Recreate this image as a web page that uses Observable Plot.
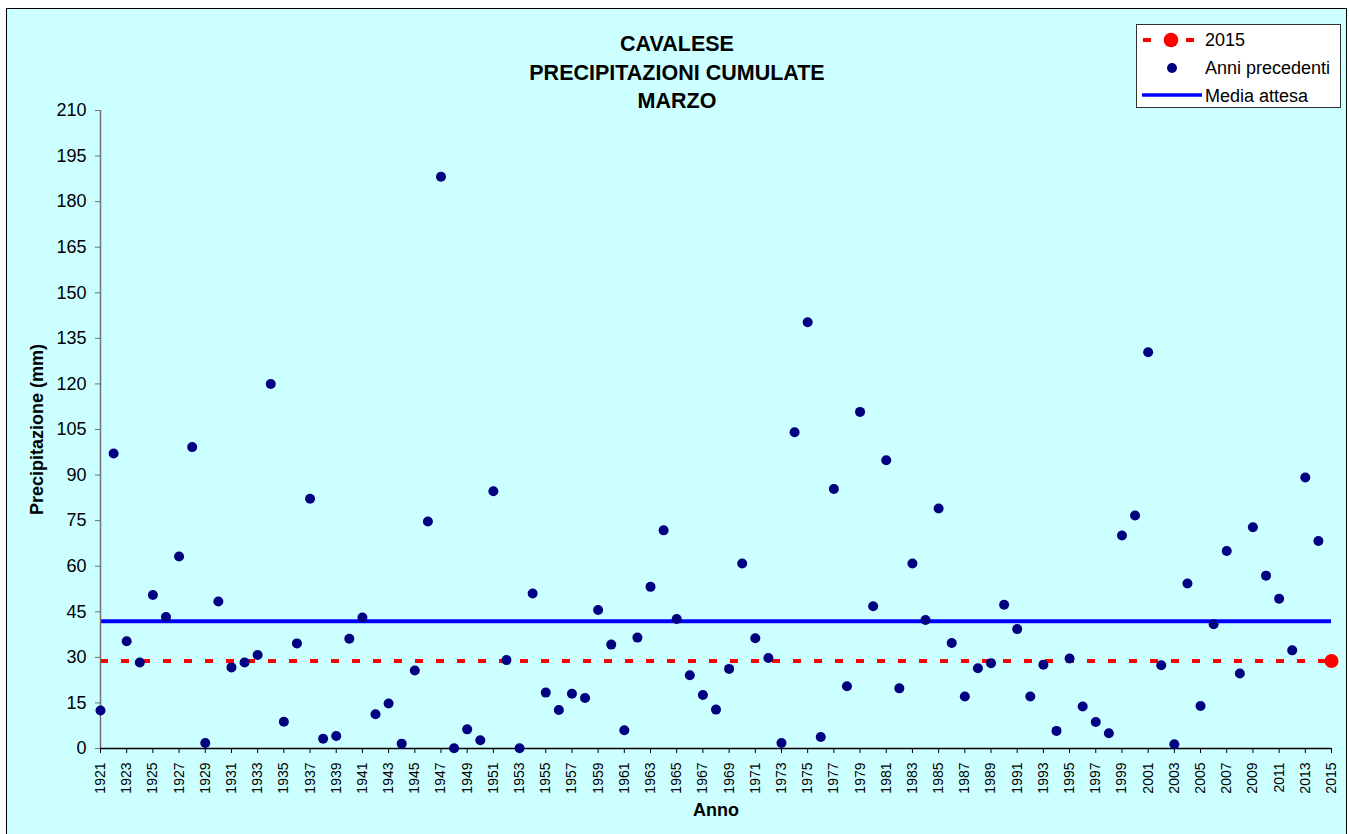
<!DOCTYPE html>
<html>
<head>
<meta charset="utf-8">
<script src="https://cdn.jsdelivr.net/npm/d3@7"></script>
<script src="https://cdn.jsdelivr.net/npm/@observablehq/plot@0.6"></script>
<style>
  html, body { margin: 0; padding: 0; background: #ffffff; }
  #wrap { position: relative; width: 1349px; height: 834px; overflow: hidden; font-family: "Liberation Sans", Arial, sans-serif; }
  #frame { position: absolute; left: 6px; top: 8px; width: 1341px; height: 840px; background: #CCFFFF; border: 1.5px solid #000; box-sizing: border-box; }
  #chart { position: absolute; left: 0; top: 0; }
  #title { position: absolute; left: 477px; width: 400px; top: 30px; text-align: center; font-weight: bold; font-size: 21.5px; line-height: 28.5px; color: #000; }
  #legend { position: absolute; left: 1136px; top: 24px; width: 205px; height: 84px; background: #fff; border: 1px solid #333; box-sizing: border-box; }
  #legend svg { position: absolute; left: 0; top: 0; }
</style>
</head>
<body>
<div id="wrap">
  <div id="frame"></div>
  <div id="chart"></div>
  <div id="title">CAVALESE<br>PRECIPITAZIONI CUMULATE<br>MARZO</div>
  <div id="legend"></div>
</div>
<script>
// ---- data ----
const years = [
  1921,1922,1923,1924,1925,1926,1927,1928,1929,1930,
  1931,1932,1933,1934,1935,1936,1937,1938,1939,1940,
  1941,1942,1943,1944,1945,1946,1947,1948,1949,1950,
  1951,1952,1953,1954,1955,1956,1957,1958,1959,1960,
  1961,1962,1963,1964,1965,1966,1967,1968,1969,1970,
  1971,1972,1973,1974,1975,1976,1977,1978,1979,1980,
  1981,1982,1983,1984,1985,1986,1987,1988,1989,1990,
  1991,1992,1993,1994,1995,1996,1997,1998,1999,2000,
  2001,2002,2003,2004,2005,2006,2007,2008,2009,2010,
  2011,2012,2013,2014
];
const precip = [
  12.5, 97.1, 35.3, 28.3, 50.5, 43.3, 63.2, 99.2, 1.8, 48.4,
  26.7, 28.3, 30.8, 120.0, 8.8, 34.6, 82.2, 3.2, 4.1, 36.1,
  43.1, 11.3, 14.8, 1.6, 25.7, 74.7, 188.2, 0.1, 6.3, 2.7,
  84.7, 29.1, 0.1, 51.0, 18.4, 12.7, 18.0, 16.6, 45.6, 34.2,
  6.0, 36.5, 53.2, 71.8, 42.6, 24.1, 17.6, 12.8, 26.2, 60.9,
  36.3, 29.8, 1.8, 104.1, 140.3, 3.8, 85.4, 20.5, 110.8, 46.8,
  94.9, 19.8, 60.9, 42.3, 79.0, 34.7, 17.1, 26.4, 28.1, 47.3,
  39.3, 17.1, 27.6, 5.8, 29.6, 13.8, 8.7, 5.0, 70.1, 76.7,
  130.4, 27.4, 1.4, 54.3, 14.0, 40.9, 65.0, 24.7, 72.8, 56.9,
  49.3, 32.3, 89.2, 68.3
];
const currentYear = [2015];
const currentValue = [28.8];
const expectedMean = [41.9];
const xTickLabels = [
  1921,1923,1925,1927,1929,1931,1933,1935,1937,1939,1941,1943,1945,1947,
  1949,1951,1953,1955,1957,1959,1961,1963,1965,1967,1969,1971,1973,1975,
  1977,1979,1981,1983,1985,1987,1989,1991,1993,1995,1997,1999,2001,2003,
  2005,2007,2009,2011,2013,2015
];
const yTickLabels = [0,15,30,45,60,75,90,105,120,135,150,165,180,195,210];

const past = years.map((y, i) => ({year: y, value: precip[i]}));
const current = currentYear.map((y, i) => ({year: y, value: currentValue[i]}));
const xMin = xTickLabels[0], xMax = xTickLabels[xTickLabels.length - 1];

const chart = Plot.plot({
  width: 1349,
  height: 834,
  marginLeft: 100,
  marginRight: 18,
  marginTop: 110,
  marginBottom: 86,
  style: {background: "transparent", fontFamily: "'Liberation Sans', Arial, sans-serif", color: "#000", overflow: "visible"},
  x: {domain: [xMin, xMax], type: "linear"},
  y: {domain: [0, 210]},
  marks: [
    Plot.ruleY(expectedMean, {x1: xMin, x2: xMax, stroke: "#0000FF", strokeWidth: 4}),
    Plot.ruleY(currentValue, {x1: xMin, x2: xMax, stroke: "#FF0000", strokeWidth: 4, strokeDasharray: "8,13"}),
    Plot.ruleX([xMin], {stroke: "#707070", strokeWidth: 1.5}),
    Plot.ruleY([0], {stroke: "#000", strokeWidth: 1.5}),
    Plot.axisY({ticks: yTickLabels, tickSize: 5, tickPadding: 9, fontSize: 18, label: null, stroke: "#707070", fill: "#000"}),
    Plot.axisX({ticks: xTickLabels, tickFormat: d => String(d), tickSize: 5, tickPadding: 9, tickRotate: -90, fontSize: 14, label: null, stroke: "#000", fill: "#000"}),
    Plot.dot(past, {x: "year", y: "value", r: 5, fill: "#000080", stroke: null}),
    Plot.dot(current, {x: "year", y: "value", r: 7, fill: "#FF0000", stroke: null}),
    Plot.text(["Precipitazione (mm)"], {frameAnchor: "left", dx: -63, rotate: -90, textAnchor: "middle", lineAnchor: "middle", fontSize: 18, fontWeight: "bold", fill: "#000"}),
    Plot.text(["Anno"], {frameAnchor: "bottom", dy: 62, textAnchor: "middle", lineAnchor: "middle", fontSize: 18, fontWeight: "bold", fill: "#000"})
  ]
});
document.getElementById("chart").appendChild(chart);

// ---- legend ----
const legendItems = ["2015", "Anni precedenti", "Media attesa"];
const lg = d3.select("#legend").append("svg").attr("width", 205).attr("height", 84);
lg.style("font-family", "'Liberation Sans', Arial, sans-serif");
// row 1: red dashes + big red dot
lg.append("line").attr("x1", 6).attr("x2", 14).attr("y1", 15).attr("y2", 15)
  .attr("stroke", "#FF0000").attr("stroke-width", 4);
lg.append("line").attr("x1", 49).attr("x2", 57).attr("y1", 15).attr("y2", 15)
  .attr("stroke", "#FF0000").attr("stroke-width", 4);
lg.append("circle").attr("cx", 34).attr("cy", 15).attr("r", 7.3).attr("fill", "#FF0000");
// row 2: navy dot
lg.append("circle").attr("cx", 35).attr("cy", 43).attr("r", 5).attr("fill", "#000080");
// row 3: blue line
lg.append("line").attr("x1", 5).attr("x2", 65).attr("y1", 70).attr("y2", 70)
  .attr("stroke", "#0000FF").attr("stroke-width", 3.5);
legendItems.forEach((t, i) => {
  lg.append("text").attr("x", 68).attr("y", 15 + i * 28).attr("dy", "0.35em")
    .attr("font-size", 18).attr("fill", "#000").text(t);
});
</script>
</body>
</html>
